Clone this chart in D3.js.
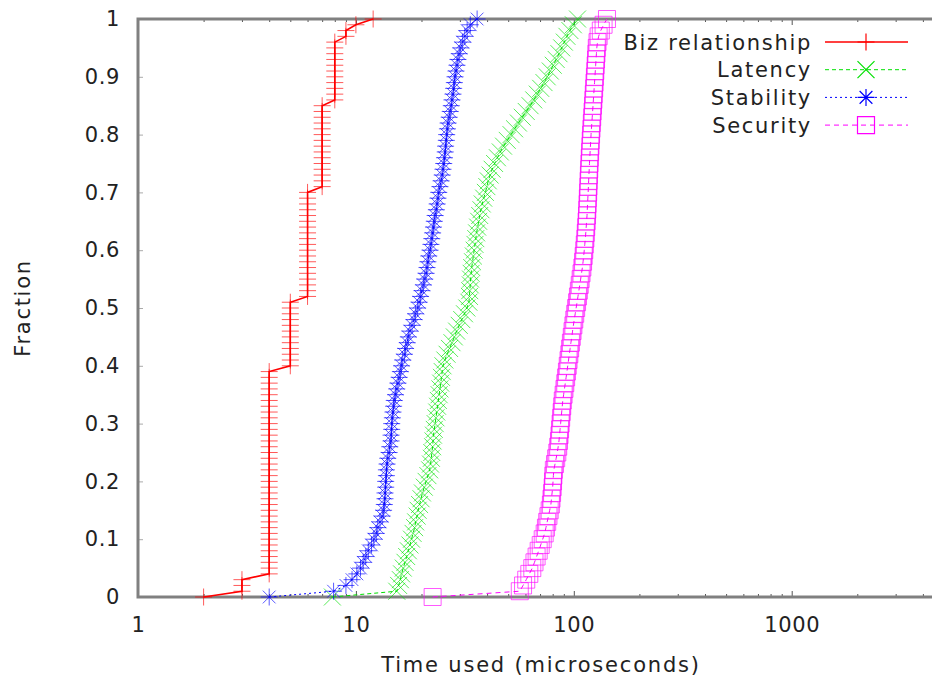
<!DOCTYPE html>
<html>
<head>
<meta charset="utf-8">
<script src="https://cdn.jsdelivr.net/npm/d3@7"></script>
<style>
  body { margin: 0; background: #fff; }
  text { font-family: "DejaVu Sans", sans-serif; fill: #222; }
</style>
</head>
<body>
<div id="chart"></div>
<script>
// sorted samples (one per marker), CDF y = i/(n-1)
const bizTimes = [2, 3, 4, 5, 6, 7, 8, 9, 10, 12];
const bizCounts = [1, 3, 36, 12, 19, 15, 11, 2, 1, 1];

const latencyTimes = [
  7.8, 15.4, 15.7, 16.0, 16.2, 16.5, 16.8, 17.1, 17.4, 17.7,
  18.0, 18.3, 18.6, 18.8, 19.1, 19.3, 19.6, 19.9, 20.2, 20.6,
  21.0, 21.4, 21.8, 22.0, 22.2, 22.3, 22.5, 22.6, 22.7, 22.9,
  23.1, 23.3, 23.5, 23.7, 23.9, 24.1, 24.3, 24.5, 24.7, 24.9,
  25.1, 25.6, 26.2, 26.9, 27.6, 28.3, 29.0, 29.8, 30.6, 31.5,
  32.3, 33.0, 33.2, 33.3, 33.5, 33.6, 33.8, 34.0, 34.3, 34.6,
  34.9, 35.2, 35.5, 35.8, 36.2, 36.6, 37.0, 37.5, 38.0, 38.6,
  39.3, 39.9, 40.5, 41.3, 42.2, 43.3, 44.6, 46.0, 47.6, 49.5,
  51.5, 53.5, 55.7, 58.0, 60.5, 63.0, 65.5, 68.0, 70.5, 73.0,
  75.5, 78.0, 80.5, 83.0, 85.5, 88.0, 90.5, 93.0, 96.0, 99.5,
  104.0
];

const stabilityTimes = [
  4.0, 7.9, 9.0, 9.6, 10.1, 10.5, 10.8, 11.1, 11.4, 11.8,
  12.1, 12.4, 12.6, 12.9, 13.2, 13.4, 13.5, 13.6, 13.6, 13.7,
  13.7, 13.8, 13.8, 13.9, 14.0, 14.2, 14.3, 14.5, 14.5, 14.6,
  14.6, 14.7, 14.8, 14.9, 15.0, 15.2, 15.4, 15.6, 15.8, 16.0,
  16.2, 16.4, 16.7, 16.9, 17.2, 17.4, 17.7, 18.1, 18.5, 18.8,
  19.2, 19.5, 19.8, 20.1, 20.4, 20.7, 21.0, 21.2, 21.4, 21.6,
  21.9, 22.1, 22.3, 22.5, 22.7, 22.9, 23.1, 23.4, 23.6, 23.8,
  24.0, 24.3, 24.6, 24.9, 25.1, 25.3, 25.5, 25.7, 25.8, 26.0,
  26.1, 26.3, 26.5, 26.8, 27.1, 27.4, 27.6, 27.9, 28.1, 28.3,
  28.5, 28.8, 29.1, 29.4, 29.8, 30.3, 30.9, 31.6, 32.4, 33.5,
  36.0
];

const securityTimes = [
  22.5, 56.5, 58.5, 60.5, 62.5, 64.5, 66.0, 67.5, 69.0, 70.5,
  72.0, 73.5, 74.5, 75.5, 76.5, 77.5, 78.5, 79.0, 79.5, 80.0,
  80.3, 80.6, 81.0, 82.0, 83.0, 84.0, 84.8, 85.5, 86.0, 86.5,
  87.0, 87.5, 88.0, 88.5, 89.0, 89.8, 90.6, 91.4, 92.2, 93.0,
  93.8, 94.6, 95.4, 96.2, 97.0, 97.9, 98.7, 99.6, 100.5, 101.5,
  102.5, 103.5, 104.5, 105.5, 106.5, 107.5, 108.5, 109.5, 110.3, 111.0,
  111.7, 112.3, 113.0, 113.5, 114.0, 114.5, 115.0, 115.3, 115.7, 116.0,
  116.4, 116.7, 117.0, 117.3, 117.7, 118.0, 118.4, 118.8, 119.2, 119.6,
  120.0, 120.5, 121.0, 121.5, 122.0, 122.5, 123.0, 123.5, 124.0, 124.5,
  125.0, 125.5, 126.0, 126.5, 127.0, 127.5, 128.5, 130.0, 133.0, 137.0,
  142.0
];

const seriesNames = ["Biz relationship", "Latency", "Stability", "Security"];
const xTicks = [1, 10, 100, 1000];
const yTicks = [0, 0.1, 0.2, 0.3, 0.4, 0.5, 0.6, 0.7, 0.8, 0.9, 1];

var width = 932, height = 679;

var svg = d3.select("#chart").append("svg")
  .attr("width", width)
  .attr("height", height);

// right end of the x range lies past the window edge, like the original crop
var x = d3.scaleLog().domain([1, 5000]).range([138, 944]);
var y = d3.scaleLinear().domain([0, 1]).range([597, 19]);

// markers, gnuplot style
var h = 8.5;
var shapes = {
  plus: `M${-h},0H${h}M0,${-h}V${h}`,
  cross: `M${-h},${-h}L${h},${h}M${-h},${h}L${h},${-h}`,
  star: `M${-h},0H${h}M0,${-h}V${h}M${-h*0.75},${-h*0.75}L${h*0.75},${h*0.75}M${-h*0.75},${h*0.75}L${h*0.75},${-h*0.75}`,
  square: `M${-h},${-h}H${h}V${h}H${-h}Z`
};

var bizSamples = bizTimes.flatMap((t, i) => d3.range(bizCounts[i]).map(() => t));

function toCdf(vals) {
  return vals.map((v, i) => ({ x: v, y: i / (vals.length - 1) }));
}

var series = [
  { name: seriesNames[0], data: toCdf(bizSamples), color: "#ff0000", dash: null, lw: 1.6, shape: "plus" },
  { name: seriesNames[1], data: toCdf(latencyTimes), color: "#00e000", dash: "4,3", lw: 1, shape: "cross" },
  { name: seriesNames[2], data: toCdf(stabilityTimes), color: "#0000ff", dash: "2,3", lw: 1, shape: "star" },
  { name: seriesNames[3], data: toCdf(securityTimes), color: "#ff00ff", dash: "5,4", lw: 1, shape: "square" }
];

// ---- axes
var minorX = x.ticks().filter(d => xTicks.indexOf(d) < 0);

svg.append("g").attr("transform", `translate(0,${y(0)})`)
  .call(d3.axisBottom(x).tickValues(xTicks).tickFormat(d3.format("d"))
    .tickSize(-6).tickPadding(20));
svg.append("g").attr("transform", `translate(0,${y(0)})`)
  .call(d3.axisBottom(x).tickValues(minorX).tickFormat("").tickSize(-3));
svg.append("g").attr("transform", `translate(0,${y(1)})`)
  .call(d3.axisTop(x).tickValues(xTicks).tickFormat("").tickSize(-6));
svg.append("g").attr("transform", `translate(0,${y(1)})`)
  .call(d3.axisTop(x).tickValues(minorX).tickFormat("").tickSize(-3));
var left = svg.append("g").attr("transform", `translate(${x(1)},0)`)
  .call(d3.axisLeft(y).tickValues(yTicks).tickFormat(d3.format("~g"))
    .tickSize(-5).tickPadding(18));

svg.selectAll(".domain").remove();
svg.selectAll(".tick line").attr("stroke", "#555");
svg.selectAll(".tick text")
  .attr("font-family", "DejaVu Sans, sans-serif")
  .attr("font-size", 21)
  .attr("letter-spacing", 0.6)
  .attr("fill", "#222");
left.selectAll(".tick line").attr("stroke", "#aaa");

// frame
svg.append("rect")
  .attr("x", x(1)).attr("y", y(1))
  .attr("width", x(5000) - x(1)).attr("height", y(0) - y(1))
  .attr("fill", "none").attr("stroke", "#808080").attr("stroke-width", 3);

svg.append("text")
  .attr("transform", `translate(30,${(y(0) + y(1)) / 2}) rotate(-90)`)
  .attr("text-anchor", "middle")
  .attr("font-size", 21)
  .attr("letter-spacing", 1.7)
  .text("Fraction");

svg.append("text")
  .attr("x", (x(1) + x(5000)) / 2).attr("y", 672)
  .attr("text-anchor", "middle")
  .attr("font-size", 21)
  .attr("letter-spacing", 1.8)
  .text("Time used (microseconds)");

// ---- series
var line = d3.line().x(d => x(d.x)).y(d => y(d.y));

series.forEach(s => {
  var g = svg.append("g");
  g.append("path")
    .attr("d", line(s.data))
    .attr("fill", "none")
    .attr("stroke", s.color)
    .attr("stroke-width", s.lw)
    .attr("stroke-dasharray", s.dash);
  g.selectAll("path.pt").data(s.data).enter().append("path")
    .attr("class", "pt")
    .attr("transform", d => `translate(${x(d.x)},${y(d.y)})`)
    .attr("d", shapes[s.shape])
    .attr("fill", "none")
    .attr("stroke", s.color)
    .attr("stroke-opacity", 0.65)
    .attr("stroke-width", 1);
});

// ---- legend
var leg = svg.append("g");
series.forEach((s, i) => {
  var yy = 42 + i * 27.7;
  leg.append("text")
    .attr("x", 812).attr("y", yy + 7.5)
    .attr("text-anchor", "end")
    .attr("font-size", 21)
    .attr("letter-spacing", 1.7)
    .text(s.name);
  leg.append("line")
    .attr("x1", 825).attr("x2", 908).attr("y1", yy).attr("y2", yy)
    .attr("stroke", s.color).attr("stroke-width", s.lw)
    .attr("stroke-dasharray", s.dash);
  leg.append("path")
    .attr("transform", `translate(866,${yy})`)
    .attr("d", shapes[s.shape])
    .attr("fill", "none")
    .attr("stroke", s.color)
    .attr("stroke-width", 1.2);
});
</script>
</body>
</html>
